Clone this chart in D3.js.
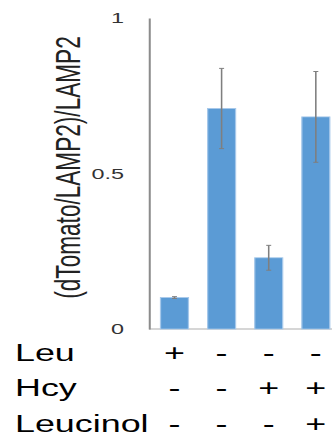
<!DOCTYPE html>
<html>
<head>
<meta charset="utf-8">
<script src="https://cdn.jsdelivr.net/npm/d3@7"></script>
<style>
  body { margin: 0; background: #fff; }
  svg { display: block; font-family: "Liberation Sans", Arial, sans-serif; }
</style>
</head>
<body>
<div id="chart"></div>
<script>
// data
var conditions = ['A', 'B', 'C', 'D'];
var means = [0.101, 0.709, 0.229, 0.682];
var errors = [0.003, 0.129, 0.04, 0.146];
var rowNames = ['Leu', 'Hcy', 'Leucinol'];
var rowSigns = [
    ['+', '-', '-', '-'],
    ['-', '-', '+', '+'],
    ['-', '-', '-', '+']
];
var yTicks = [0, 0.5, 1];
var yTitle = '(dTomato/LAMP2)/LAMP2';

// the original picture is stretched sideways, so draw in a narrower box and widen it
var W = 332, H = 443, sx = 1.56;
var innerW = W / sx;

var svg = d3.select('#chart').append('svg')
    .attr('width', W)
    .attr('height', H);

var g = svg.append('g')
    .attr('transform', 'scale(' + sx + ',1)');

var axisX = 95.5;

var x = d3.scaleBand()
    .domain(conditions)
    .range([axisX, 218.8])
    .paddingInner(0.407)
    .paddingOuter(0.245);

var y = d3.scaleLinear()
    .domain([0, 1])
    .range([329, 18]);

// baseline
g.append('line')
    .attr('x1', axisX).attr('x2', innerW + 5)
    .attr('y1', y(0)).attr('y2', y(0))
    .style('stroke', '#c8c8c8')
    .style('stroke-width', 1.5);

// bars
g.selectAll('rect.bar')
    .data(means)
    .enter().append('rect')
    .attr('class', 'bar')
    .attr('x', function (d, i) { return x(conditions[i]); })
    .attr('width', x.bandwidth())
    .attr('y', function (d) { return y(d); })
    .attr('height', function (d) { return y(0) - y(d); })
    .style('fill', '#5b9bd5')
    .style('stroke', '#a6c8ea')
    .style('stroke-width', 0.8);

// error bars
var capW = 1.6;
var eb = g.selectAll('g.err')
    .data(means)
    .enter().append('g')
    .attr('class', 'err')
    .style('stroke', '#7f7f7f')
    .style('stroke-width', 1);

eb.append('line')
    .attr('x1', function (d, i) { return x(conditions[i]) + x.bandwidth() / 2; })
    .attr('x2', function (d, i) { return x(conditions[i]) + x.bandwidth() / 2; })
    .attr('y1', function (d, i) { return y(d + errors[i]); })
    .attr('y2', function (d, i) { return y(d - errors[i]); });

eb.append('line')
    .attr('x1', function (d, i) { return x(conditions[i]) + x.bandwidth() / 2 - capW; })
    .attr('x2', function (d, i) { return x(conditions[i]) + x.bandwidth() / 2 + capW; })
    .attr('y1', function (d, i) { return y(d + errors[i]); })
    .attr('y2', function (d, i) { return y(d + errors[i]); });

eb.append('line')
    .attr('x1', function (d, i) { return x(conditions[i]) + x.bandwidth() / 2 - capW; })
    .attr('x2', function (d, i) { return x(conditions[i]) + x.bandwidth() / 2 + capW; })
    .attr('y1', function (d, i) { return y(d - errors[i]); })
    .attr('y2', function (d, i) { return y(d - errors[i]); });

// y axis
var yAxis = g.append('g')
    .attr('transform', 'translate(' + axisX + ',0)')
    .call(d3.axisLeft(y).tickValues(yTicks).tickSize(0).tickPadding(16)
        .tickFormat(function (d) { return d === 0 ? '0' : d === 1 ? '1' : '0.5'; }));

yAxis.select('.domain')
    .style('stroke', '#8c8c8c')
    .style('stroke-width', 1.3);

yAxis.selectAll('text')
    .style('font-size', '15px')
    .style('font-family', '"Liberation Sans", Arial, sans-serif')
    .style('fill', '#333');

// y title
g.append('text')
    .attr('transform', 'translate(' + 43.3 + ',' + 167.5 + ') rotate(-90)')
    .attr('dy', '0.35em')
    .style('text-anchor', 'middle')
    .style('font-size', '22.6px')
    .style('fill', '#222')
    .text(yTitle);

// condition table under the bars
var rowY = d3.scalePoint()
    .domain(rowNames)
    .range([361, 432]);

g.selectAll('text.rowname')
    .data(rowNames)
    .enter().append('text')
    .attr('class', 'rowname')
    .attr('x', 9.6)
    .attr('y', function (d) { return rowY(d); })
    .style('font-size', '23px')
    .style('fill', '#000')
    .text(function (d) { return d; });

rowSigns.forEach(function (signs, r) {
    g.selectAll('text.sign' + r)
        .data(signs)
        .enter().append('text')
        .attr('class', 'sign' + r)
        .attr('x', function (d, i) { return x(conditions[i]) + x.bandwidth() / 2; })
        .attr('y', rowY(rowNames[r]))
        .style('text-anchor', 'middle')
        .style('font-size', '23px')
        .style('fill', '#000')
        .text(function (d) { return d; });
});
</script>
</body>
</html>
